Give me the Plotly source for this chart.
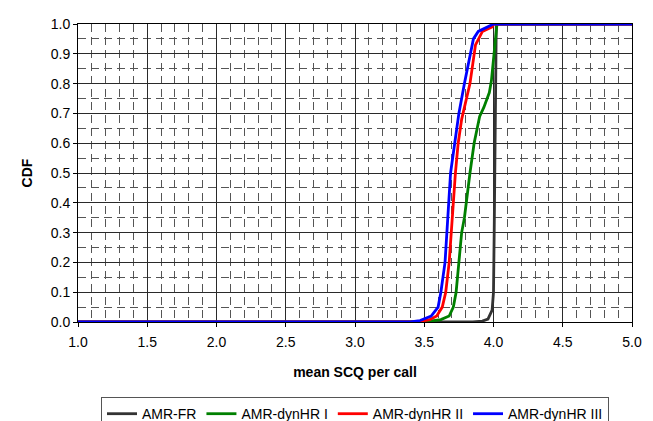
import plotly.graph_objects as go

# ---- data ----
fr_x = [1.0, 3.85, 3.92, 3.96, 3.99, 4.0, 4.005, 4.01, 4.015, 4.02, 5.0]
fr_y = [0.0, 0.0, 0.003, 0.01, 0.04, 0.1, 0.3, 0.6, 0.9, 1.0, 1.0]

dyn1_x = [1.0, 3.50, 3.62, 3.68, 3.71, 3.73, 3.75, 3.77, 3.79, 3.81, 3.83, 3.86, 3.90, 3.93, 3.97, 3.985, 4.0, 4.01, 4.02, 4.025, 5.0]
dyn1_y = [0.0, 0.0, 0.008, 0.02, 0.05, 0.10, 0.20, 0.30, 0.35, 0.43, 0.50, 0.60, 0.69, 0.72, 0.77, 0.81, 0.88, 0.94, 0.99, 1.0, 1.0]

dyn2_x = [1.0, 3.45, 3.54, 3.59, 3.63, 3.655, 3.68, 3.70, 3.71, 3.725, 3.745, 3.77, 3.79, 3.83, 3.87, 3.92, 3.99, 4.0, 5.0]
dyn2_y = [0.0, 0.0, 0.008, 0.02, 0.05, 0.10, 0.20, 0.35, 0.40, 0.50, 0.60, 0.68, 0.72, 0.80, 0.93, 0.975, 0.99, 1.0, 1.0]

dyn3_x = [1.0, 3.40, 3.47, 3.55, 3.60, 3.62, 3.65, 3.67, 3.69, 3.72, 3.75, 3.79, 3.83, 3.855, 3.89, 3.95, 4.0, 5.0]
dyn3_y = [0.0, 0.0, 0.005, 0.02, 0.05, 0.10, 0.20, 0.35, 0.50, 0.60, 0.70, 0.80, 0.90, 0.95, 0.975, 0.99, 1.0, 1.0]

series_names = ["AMR-FR", "AMR-dynHR I", "AMR-dynHR II", "AMR-dynHR III"]
series_colors = ["#333333", "#008000", "#ff0000", "#0000ff"]
x_ticks = [1.0, 1.5, 2.0, 2.5, 3.0, 3.5, 4.0, 4.5, 5.0]
y_ticks = [0.0, 0.1, 0.2, 0.3, 0.4, 0.5, 0.6, 0.7, 0.8, 0.9, 1.0]

FONT = "Liberation Sans, Arial, sans-serif"

fig = go.Figure()
for xs, ys, name, col in zip([fr_x, dyn1_x, dyn2_x, dyn3_x],
                             [fr_y, dyn1_y, dyn2_y, dyn3_y],
                             series_names, series_colors):
    fig.add_trace(go.Scatter(x=xs, y=ys, mode="lines", name=name,
                             line=dict(color=col, width=2.8)))

grid_major = "#2a2a2a"
grid_minor = "#555555"

fig.update_layout(
    width=653, height=421,
    margin=dict(l=70, r=29, t=16, b=107, autoexpand=False),
    paper_bgcolor="white", plot_bgcolor="white",
    font=dict(family=FONT, size=14, color="black"),
    showlegend=True,
    legend=dict(orientation="h", x=0.5, xanchor="center", y=-0.252, yanchor="top",
                bordercolor="#555555", borderwidth=1, font=dict(size=14),
                itemwidth=30, tracegroupgap=0),
    xaxis=dict(range=[1.0, 5.0], tickvals=x_ticks, ticktext=[f"{v:.1f}" for v in x_ticks],
               showgrid=True, gridcolor=grid_major, gridwidth=1,
               showline=True, linecolor="black", linewidth=1, mirror=True,
               ticks="outside", ticklen=4, tickcolor="black", zeroline=False,
               ticklabelstandoff=3,
               minor=dict(dtick=0.1, showgrid=True, gridcolor=grid_minor, gridwidth=1,
                          griddash="8px,5px", ticks=""),
               title=dict(text="<b>mean SCQ per call</b>", font=dict(size=14), standoff=18)),
    yaxis=dict(range=[0.0, 1.0], tickvals=y_ticks, ticktext=[f"{v:.1f}" for v in y_ticks],
               showgrid=True, gridcolor=grid_major, gridwidth=1,
               showline=True, linecolor="black", linewidth=1, mirror=True,
               ticks="outside", ticklen=4, tickcolor="black", zeroline=False,
               minor=dict(dtick=0.05, showgrid=True, gridcolor=grid_minor, gridwidth=1,
                          griddash="8px,5px", ticks=""),
               title=dict(text="<b>CDF</b>", font=dict(size=14), standoff=14)),
)

fig.write_html("out.html")
